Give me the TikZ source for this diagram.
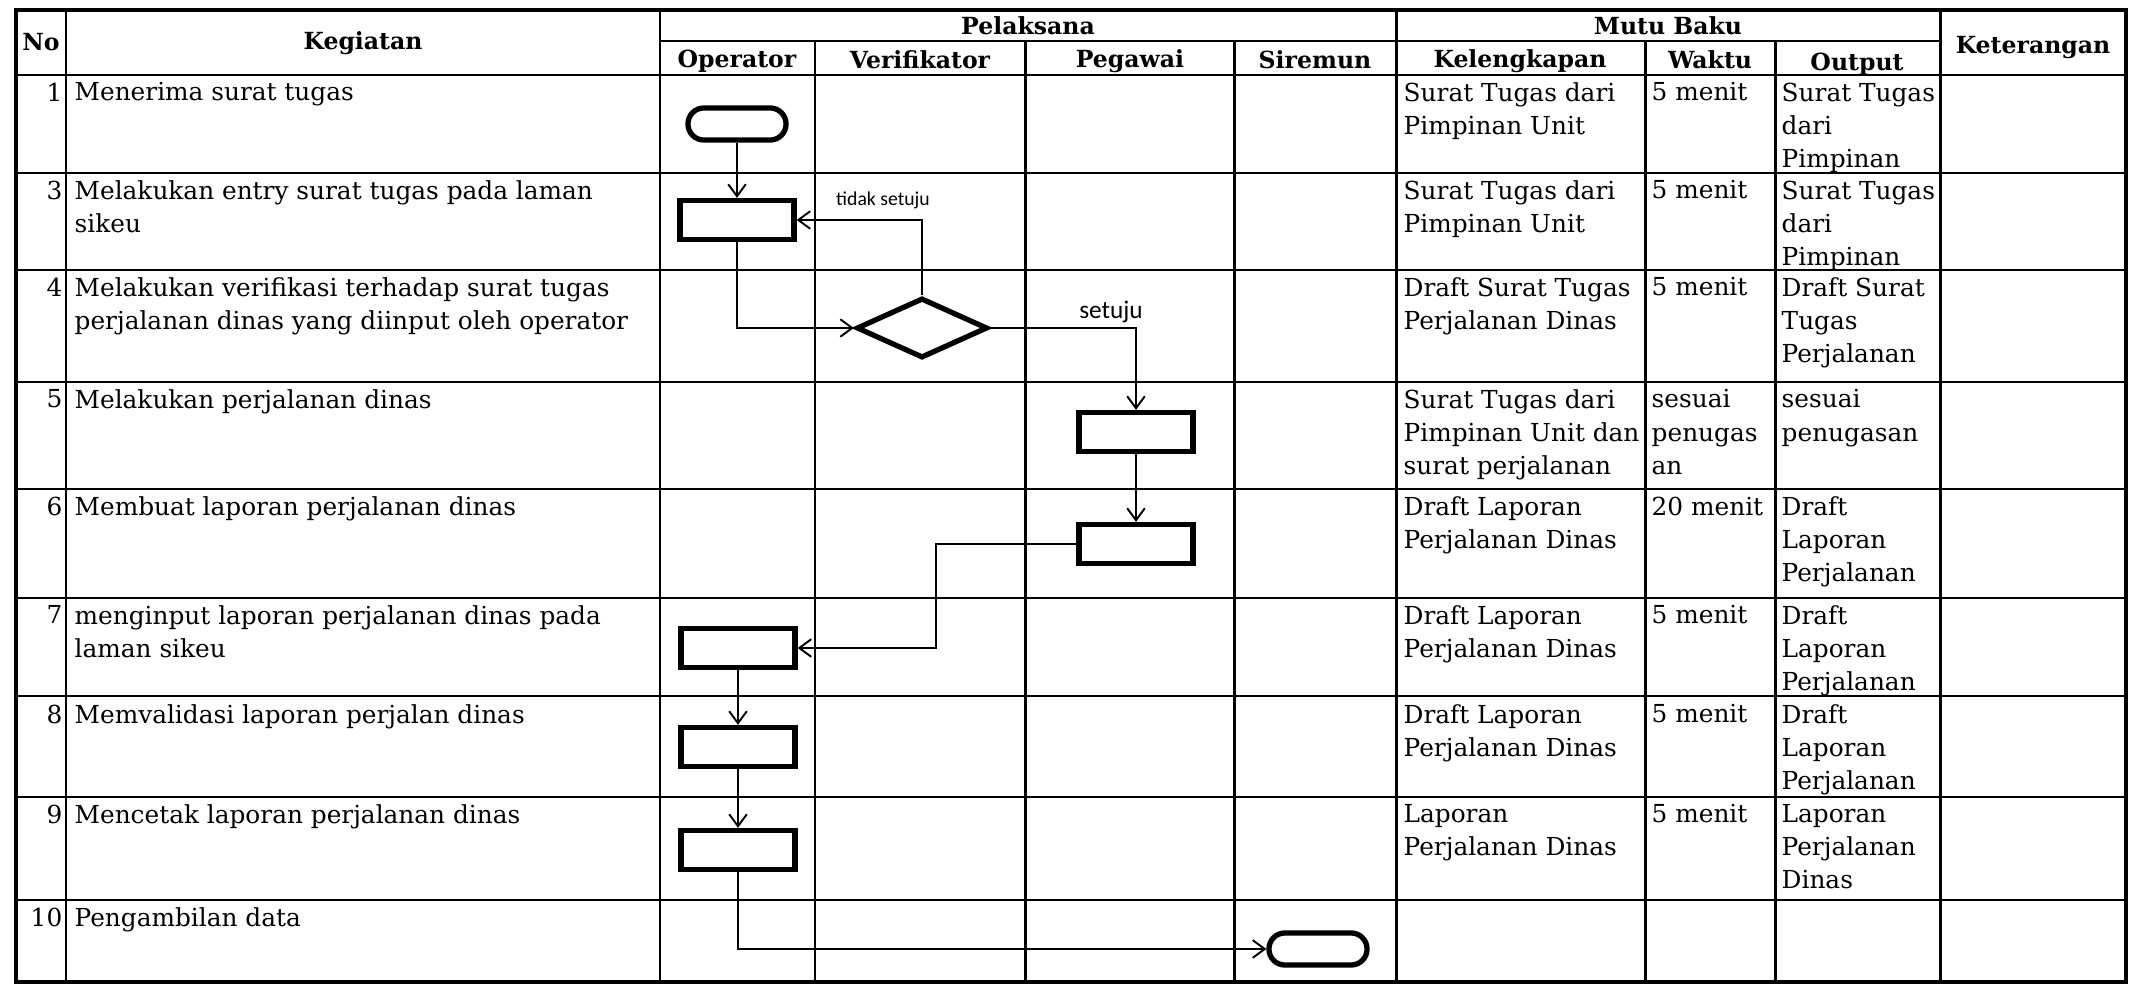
\documentclass[tikz,border=0pt]{standalone}
\usepackage{fontspec}
\setmainfont{DejaVu Serif}
\newfontfamily\calfont{Carlito}
\usetikzlibrary{shapes.geometric,arrows.meta}

\begin{document}
\begin{tikzpicture}[x=0.01cm, y=-0.01cm,
    grid/.style={line width=0.85pt},
    frame/.style={line width=1.2pt},
    head/.style={font=\fontsize{6.7}{8}\selectfont\bfseries, inner sep=0pt},
    cell/.style={font=\fontsize{7.05}{9.4}\selectfont, align=left, anchor=north west, inner sep=0pt},
    num/.style={font=\fontsize{7.05}{9.4}\selectfont, anchor=north east, inner sep=0pt},
    proc/.style={draw, line width=1.5pt, minimum width=1.14cm, minimum height=0.39cm, inner sep=0pt},
    term/.style={draw, line width=1.5pt, rounded corners=4.5pt, minimum width=0.98cm, minimum height=0.32cm, inner sep=0pt},
    decision/.style={draw, diamond, line width=1.5pt, minimum width=1.31cm, minimum height=0.60cm, inner sep=0pt},
    flow/.style={line width=0.55pt, -{Straight Barb[length=3.4pt,width=5pt]}}]
    \fill[white] (0,0) rectangle (2141,985);
    \useasboundingbox (0,0) rectangle (2141,985);

    % table
    \draw[frame] (16,10) rectangle (2126,982);
    \draw[grid] (660,41) -- (1940,41);
    \draw[grid] (16,75) -- (2126,75) (16,173) -- (2126,173) (16,270) -- (2126,270)
        (16,382) -- (2126,382) (16,489) -- (2126,489) (16,598) -- (2126,598)
        (16,696) -- (2126,696) (16,797) -- (2126,797) (16,900) -- (2126,900);
    \draw[grid] (66,10) -- (66,982) (660,10) -- (660,982) (1396,10) -- (1396,982) (1940,10) -- (1940,982);
    \draw[grid] (815,41) -- (815,982) (1025,41) -- (1025,982) (1234,41) -- (1234,982)
        (1645,41) -- (1645,982) (1775,41) -- (1775,982);

    % header
    \node[head] (hno) at (41,42) {No};
    \node[head] (hkeg) at (363,43) {Kegiatan};
    \node[head] (hpel) at (1028,26) {Pelaksana};
    \node[head] (hop) at (737,61) {Operator};
    \node[head] (hver) at (920,60) {Verifikator};
    \node[head] (hpeg) at (1130,61) {Pegawai};
    \node[head] (hsir) at (1315,60) {Siremun};
    \node[head] (hmutu) at (1668,26) {Mutu Baku};
    \node[head] (hkel) at (1520,61) {Kelengkapan};
    \node[head] (hwak) at (1710,60) {Waktu};
    \node[head] (hout) at (1857,64) {Output};
    \node[head] (hket) at (2033,48) {Keterangan};

    % rows
    \node[num] (no1) at (63,82) {1};
    \node[cell] (keg1) at (74,82) {Menerima surat tugas};
    \node[cell] (kel1) at (1403,82) {Surat Tugas dari\\Pimpinan Unit};
    \node[cell] (wak1) at (1651,82) {5 menit};
    \node[cell] (out1) at (1781,82) {Surat Tugas\\dari\\Pimpinan};

    \node[num] (no3) at (63,180) {3};
    \node[cell] (keg3) at (74,180) {Melakukan entry surat tugas pada laman\\sikeu};
    \node[cell] (kel3) at (1403,180) {Surat Tugas dari\\Pimpinan Unit};
    \node[cell] (wak3) at (1651,180) {5 menit};
    \node[cell] (out3) at (1781,180) {Surat Tugas\\dari\\Pimpinan};

    \node[num] (no4) at (63,277) {4};
    \node[cell] (keg4) at (74,277) {Melakukan verifikasi terhadap surat tugas\\perjalanan dinas yang diinput oleh operator};
    \node[cell] (kel4) at (1403,277) {Draft Surat Tugas\\Perjalanan Dinas};
    \node[cell] (wak4) at (1651,277) {5 menit};
    \node[cell] (out4) at (1781,277) {Draft Surat\\Tugas\\Perjalanan};

    \node[num] (no5) at (63,389) {5};
    \node[cell] (keg5) at (74,389) {Melakukan perjalanan dinas};
    \node[cell] (kel5) at (1403,389) {Surat Tugas dari\\Pimpinan Unit dan\\surat perjalanan};
    \node[cell] (wak5) at (1651,389) {sesuai\\penugas\\an};
    \node[cell] (out5) at (1781,389) {sesuai\\penugasan};

    \node[num] (no6) at (63,496) {6};
    \node[cell] (keg6) at (74,496) {Membuat laporan perjalanan dinas};
    \node[cell] (kel6) at (1403,496) {Draft Laporan\\Perjalanan Dinas};
    \node[cell] (wak6) at (1651,496) {20 menit};
    \node[cell] (out6) at (1781,496) {Draft\\Laporan\\Perjalanan};

    \node[num] (no7) at (63,605) {7};
    \node[cell] (keg7) at (74,605) {menginput laporan perjalanan dinas pada\\laman sikeu};
    \node[cell] (kel7) at (1403,605) {Draft Laporan\\Perjalanan Dinas};
    \node[cell] (wak7) at (1651,605) {5 menit};
    \node[cell] (out7) at (1781,605) {Draft\\Laporan\\Perjalanan};

    \node[num] (no8) at (63,704) {8};
    \node[cell] (keg8) at (74,704) {Memvalidasi laporan perjalan dinas};
    \node[cell] (kel8) at (1403,704) {Draft Laporan\\Perjalanan Dinas};
    \node[cell] (wak8) at (1651,704) {5 menit};
    \node[cell] (out8) at (1781,704) {Draft\\Laporan\\Perjalanan};

    \node[num] (no9) at (63,804) {9};
    \node[cell] (keg9) at (74,804) {Mencetak laporan perjalanan dinas};
    \node[cell] (kel9) at (1403,804) {Laporan\\Perjalanan Dinas};
    \node[cell] (wak9) at (1651,804) {5 menit};
    \node[cell] (out9) at (1781,804) {Laporan\\Perjalanan\\Dinas};

    \node[num] (no10) at (63,907) {10};
    \node[cell] (keg10) at (74,907) {Pengambilan data};

    % flow
    \node[term] (mulai) at (737,124) {};
    \node[proc] (entry) at (737,220) {};
    \node[decision] (verif) at (922,328) {};
    \node[proc] (jalan) at (1136,432) {};
    \node[proc] (lapor) at (1136,544) {};
    \node[proc] (input) at (738,648) {};
    \node[proc] (valid) at (738,747) {};
    \node[proc] (cetak) at (738,850) {};
    \node[term] (selesai) at (1318,949) {};
    \coordinate (belok) at (936,596);

    \draw[flow] (mulai) -- (entry);
    \draw[flow] (entry) |- (verif);
    \draw[flow] (verif) |- (entry);
    \draw[flow] (verif) -| (jalan);
    \draw[flow] (jalan) -- (lapor);
    \draw[flow] (lapor) -| (belok) |- (input);
    \draw[flow] (input) -- (valid);
    \draw[flow] (valid) -- (cetak);
    \draw[flow] (cetak) |- (selesai);

    \node[font=\calfont\fontsize{5.6}{7}\selectfont] (tolak) at (883,200) {tidak setuju};
    \node[font=\calfont\fontsize{7.2}{8}\selectfont] (setuju) at (1111,312) {setuju};
\end{tikzpicture}
\end{document}
